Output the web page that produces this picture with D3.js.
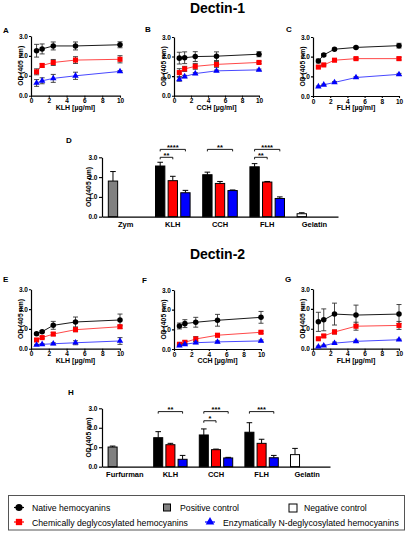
<!DOCTYPE html>
<html>
<head>
<meta charset="utf-8">
<script src="https://cdn.jsdelivr.net/npm/d3@7"></script>
<style>
  body { margin: 0; background: #fff; }
  svg { display: block; font-family: Arial, "Liberation Sans", sans-serif; }
</style>
</head>
<body>
<svg id="fig" width="410" height="541"></svg>
<script>
// concentrations (µg/ml) used in the dose curves
const conc = [0.625, 1.25, 2.5, 5, 10];
const xTicks = [0, 2, 4, 6, 8, 10];
const yTicks = [0, 1, 2, 3];

// dose curves, one row per series: native, chemically, enzymatically deglycosylated
const aMean = [[2.26, 2.35, 2.5, 2.5, 2.56], [1.2, 1.52, 1.67, 1.79, 1.83], [0.64, 0.75, 0.87, 1.0, 1.22]];
const aErr  = [[0.32, 0.25, 0.2, 0.2, 0.15], [0.15, 0.08, 0.15, 0.17, 0.18], [0.17, 0.15, 0.2, 0.18, 0.04]];
const bMean = [[1.92, 1.94, 2.0, 2.02, 2.12], [1.18, 1.37, 1.5, 1.6, 1.7], [0.84, 0.98, 1.13, 1.27, 1.32]];
const bErr  = [[0.3, 0.3, 0.25, 0.22, 0.13], [0.2, 0.13, 0.15, 0.15, 0.06], [0.1, 0.06, 0.05, 0.04, 0.04]];
const cMean = [[1.78, 2.09, 2.38, 2.47, 2.56], [1.47, 1.58, 1.82, 1.9, 1.9], [0.48, 0.57, 0.69, 0.94, 1.1]];
const cErr  = [[0.1, 0.06, 0.05, 0.05, 0.12], [0.05, 0.04, 0.05, 0.05, 0.07], [0.03, 0.03, 0.04, 0.04, 0.05]];
const eMean = [[0.76, 0.86, 1.18, 1.35, 1.45], [0.44, 0.56, 0.74, 0.96, 1.11], [0.19, 0.22, 0.25, 0.3, 0.39]];
const eErr  = [[0.06, 0.05, 0.2, 0.25, 0.3], [0.05, 0.05, 0.08, 0.1, 0.08], [0.03, 0.03, 0.05, 0.1, 0.17]];
const fMean = [[1.17, 1.29, 1.36, 1.46, 1.61], [0.24, 0.34, 0.51, 0.7, 0.85], [0.17, 0.24, 0.32, 0.36, 0.41]];
const fErr  = [[0.15, 0.2, 0.25, 0.3, 0.3], [0.04, 0.08, 0.12, 0.08, 0.06], [0.03, 0.03, 0.05, 0.05, 0.05]];
const gMean = [[1.35, 1.45, 1.74, 1.69, 1.74], [0.5, 0.64, 0.84, 1.13, 1.17], [0.1, 0.15, 0.28, 0.37, 0.45]];
const gErr  = [[0.48, 0.55, 0.55, 0.5, 0.48], [0.05, 0.07, 0.1, 0.2, 0.2], [0.03, 0.03, 0.05, 0.05, 0.03]];

// bar panels
const hemo = ["KLH", "CCH", "FLH"];
const dGroups = ["Zym", "KLH", "CCH", "FLH", "Gelatin"];
const dControlMean = [1.8, 0.15];   // positive (Zym), negative (Gelatin)
const dControlErr  = [0.48, 0.05];
const dMean = [[2.56, 2.12, 2.52], [1.82, 1.68, 1.75], [1.21, 1.32, 0.92]];
const dErr  = [[0.19, 0.13, 0.16], [0.22, 0.1, 0.03], [0.12, 0.03, 0.08]];
const dSig = [
  { group: "KLH", from: 0, to: 1, level: 3.0, label: "**" },
  { group: "KLH", from: 0, to: 2, level: 3.4, label: "****" },
  { group: "CCH", from: 0, to: 2, level: 3.4, label: "**" },
  { group: "FLH", from: 0, to: 1, level: 3.0, label: "**" },
  { group: "FLH", from: 0, to: 2, level: 3.4, label: "****" }
];

const hGroups = ["Furfurman", "KLH", "CCH", "FLH", "Gelatin"];
const hControlMean = [1.01, 0.62];  // positive (Furfurman), negative (Gelatin)
const hControlErr  = [0.05, 0.32];
const hMean = [[1.49, 1.63, 1.77], [1.13, 0.875, 1.2], [0.38, 0.45, 0.46]];
const hErr  = [[0.31, 0.31, 0.49], [0.07, 0.03, 0.21], [0.2, 0.03, 0.12]];
const hSig = [
  { group: "KLH", from: 0, to: 2, level: 2.83, label: "**" },
  { group: "CCH", from: 0, to: 1, level: 2.36, label: "*" },
  { group: "CCH", from: 0, to: 2, level: 2.83, label: "***" },
  { group: "FLH", from: 0, to: 2, level: 2.83, label: "***" }
];

const seriesNames = ["Native hemocyanins", "Chemically deglycosylated hemocyanins", "Enzymatically N-deglycosylated hemocyanins"];

const svg = d3.select("#fig");
const fillColor = ["#000000", "#ff0000", "#0000ff"];
const lineColor = ["#000000", "#ff3333", "#3333ff"];
const markers = [d3.symbolCircle, d3.symbolSquare, d3.symbolTriangle];
const markerSize = [24, 26, 18];

function styleAxis(sel, fs) {
  sel.select(".domain").attr("stroke-width", 1.2);
  sel.selectAll(".tick line").attr("stroke-width", 1.1);
  sel.selectAll("text").attr("font-size", fs).attr("font-weight", "bold")
    .attr("font-family", "Arial, 'Liberation Sans', sans-serif");
}

function panelLetter(txt, x, y) {
  svg.append("text").attr("x", x).attr("y", y).attr("font-size", 8)
    .attr("font-weight", "bold").text(txt);
}

function yLabel(g, cx, cy, fs) {
  g.append("text").attr("transform", `translate(${cx},${cy}) rotate(-90)`)
    .attr("text-anchor", "middle").attr("dy", "0.35em")
    .attr("font-size", fs).attr("font-weight", "bold").text("OD (405 nm)");
}

function linePanel(p) {
  const x = d3.scaleLinear().domain([0, 10]).range([p.left, p.right]);
  const y = d3.scaleLinear().domain([0, 3]).range([p.bottom, p.top]);
  const g = svg.append("g");

  g.append("g").attr("transform", `translate(0,${p.bottom})`)
    .call(d3.axisBottom(x).tickValues(xTicks).tickSize(2).tickPadding(1).tickSizeOuter(0))
    .call(styleAxis, 6.5);
  g.append("g").attr("transform", `translate(${p.left},0)`)
    .call(d3.axisLeft(y).tickValues(yTicks).tickSize(2).tickPadding(1).tickSizeOuter(0))
    .call(styleAxis, 6.5);

  p.mean.forEach((m, i) => {
    const pts = conc.map((c, j) => ({ x: c, y: m[j], e: p.err[i][j] }));
    g.append("path").datum(pts)
      .attr("fill", "none").attr("stroke", lineColor[i]).attr("stroke-width", 0.9)
      .attr("d", d3.line().x(d => x(d.x)).y(d => y(d.y)));

    const eb = g.append("g").attr("stroke", "#333").attr("stroke-width", 0.9);
    pts.forEach(d => {
      eb.append("line").attr("x1", x(d.x)).attr("x2", x(d.x))
        .attr("y1", y(d.y - d.e)).attr("y2", y(d.y + d.e));
      [d.y - d.e, d.y + d.e].forEach(v => {
        eb.append("line").attr("x1", x(d.x) - 2.5).attr("x2", x(d.x) + 2.5)
          .attr("y1", y(v)).attr("y2", y(v));
      });
    });

    g.append("g").selectAll("path").data(pts).enter().append("path")
      .attr("transform", d => `translate(${x(d.x)},${y(d.y)})`)
      .attr("d", d3.symbol().type(markers[i]).size(markerSize[i]))
      .attr("fill", fillColor[i]);
  });

  yLabel(g, p.left - 10.5, (p.top + p.bottom) / 2, 6.8);
  g.append("text").attr("x", (p.left + p.right) / 2).attr("y", p.bottom + 14)
    .attr("text-anchor", "middle").attr("font-size", 7).attr("font-weight", "bold")
    .text(p.xLabel);
}

function barPanel(p) {
  const x0 = d3.scaleBand().domain(p.groups).range([p.left, p.right]);
  const x1 = d3.scaleBand().domain([0, 1, 2]).range([0, x0.bandwidth()])
    .paddingInner(0.26).paddingOuter(0.5);
  const y = d3.scaleLinear().domain([0, 3]).range([p.bottom, p.top]);
  const g = svg.append("g");

  // controls sit in the first slot of their group, hemocyanins fill all three
  const bars = [
    { group: p.groups[0], slot: 0, v: p.controlMean[0], e: p.controlErr[0], fill: "#808080" },
    { group: p.groups[4], slot: 0, v: p.controlMean[1], e: p.controlErr[1], fill: "#ffffff" }
  ];
  p.mean.forEach((row, s) => row.forEach((v, k) => {
    bars.push({ group: hemo[k], slot: s, v: v, e: p.err[s][k], fill: fillColor[s] });
  }));

  const bx = d => x0(d.group) + x1(d.slot);
  const bw = x1.bandwidth();

  const eb = g.append("g").attr("stroke", "#000").attr("stroke-width", 1);
  bars.forEach(d => {
    const cx = bx(d) + bw / 2;
    eb.append("line").attr("x1", cx).attr("x2", cx).attr("y1", y(d.v)).attr("y2", y(d.v + d.e));
    eb.append("line").attr("x1", cx - 2.8).attr("x2", cx + 2.8)
      .attr("y1", y(d.v + d.e)).attr("y2", y(d.v + d.e));
  });

  g.append("g").selectAll("rect").data(bars).enter().append("rect")
    .attr("x", bx).attr("width", bw)
    .attr("y", d => y(d.v)).attr("height", d => y(0) - y(d.v))
    .attr("fill", d => d.fill).attr("stroke", "#000").attr("stroke-width", 1);

  g.append("g").attr("transform", `translate(0,${p.bottom})`)
    .call(d3.axisBottom(x0).tickSize(0).tickPadding(4.5).tickSizeOuter(0))
    .call(styleAxis, 7.5);
  g.append("g").attr("transform", `translate(${p.left},0)`)
    .call(d3.axisLeft(y).tickValues(yTicks).tickSize(3).tickPadding(1.5).tickSizeOuter(0))
    .call(styleAxis, 6.5);

  // significance brackets
  p.sig.forEach(s => {
    const xa = x0(s.group) + x1(s.from) + bw / 2;
    const xb = x0(s.group) + x1(s.to) + bw / 2;
    const ly = y(s.level);
    g.append("path")
      .attr("d", `M${xa},${ly + 2}V${ly}H${xb}V${ly + 2}`)
      .attr("fill", "none").attr("stroke", "#000").attr("stroke-width", 0.9);
    g.append("text").attr("x", (xa + xb) / 2).attr("y", ly + 0.5)
      .attr("text-anchor", "middle").attr("font-size", 7.5).attr("font-weight", "bold")
      .text(s.label);
  });

  yLabel(g, p.left - 13, (p.top + p.bottom) / 2, 6.8);
}

// titles
svg.append("text").attr("x", 217.5).attr("y", 12.5).attr("text-anchor", "middle")
  .attr("font-size", 14).attr("font-weight", "bold").text("Dectin-1");
svg.append("text").attr("x", 217.5).attr("y", 259).attr("text-anchor", "middle")
  .attr("font-size", 14).attr("font-weight", "bold").text("Dectin-2");

// Dectin-1
panelLetter("A", 3, 32.5);
linePanel({ left: 31, right: 120, top: 36, bottom: 95.7, mean: aMean, err: aErr, xLabel: "KLH [µg/ml]" });
panelLetter("B", 145, 31.5);
linePanel({ left: 174, right: 259, top: 37, bottom: 95.7, mean: bMean, err: bErr, xLabel: "CCH [µg/ml]" });
panelLetter("C", 286, 31.5);
linePanel({ left: 313, right: 399, top: 37, bottom: 96, mean: cMean, err: cErr, xLabel: "FLH [µg/ml]" });
panelLetter("D", 66, 143);
barPanel({ left: 102, right: 338, top: 157.3, bottom: 216.7, groups: dGroups,
  controlMean: dControlMean, controlErr: dControlErr, mean: dMean, err: dErr, sig: dSig });

// Dectin-2
panelLetter("E", 3, 282);
linePanel({ left: 31, right: 120, top: 289.3, bottom: 348.7, mean: eMean, err: eErr, xLabel: "KLH [µg/ml]" });
panelLetter("F", 142, 283);
linePanel({ left: 174, right: 261, top: 290, bottom: 349, mean: fMean, err: fErr, xLabel: "CCH [µg/ml]" });
panelLetter("G", 285, 282);
linePanel({ left: 313, right: 399, top: 289, bottom: 348.7, mean: gMean, err: gErr, xLabel: "FLH [µg/ml]" });
panelLetter("H", 68, 395);
barPanel({ left: 102, right: 330, top: 408.3, bottom: 466.7, groups: hGroups,
  controlMean: hControlMean, controlErr: hControlErr, mean: hMean, err: hErr, sig: hSig });

// legend
const leg = svg.append("g");
leg.append("rect").attr("x", 8.5).attr("y", 495.5).attr("width", 396).attr("height", 34.5)
  .attr("fill", "#fff").attr("stroke", "#555").attr("stroke-width", 1);

function legLine(cx, cy, i) {
  leg.append("line").attr("x1", cx - 5).attr("x2", cx + 5).attr("y1", cy).attr("y2", cy)
    .attr("stroke", fillColor[i]).attr("stroke-width", 1.2);
  leg.append("path").attr("transform", `translate(${cx},${cy})`)
    .attr("d", d3.symbol().type(markers[i]).size(i === 2 ? 32 : 40)).attr("fill", fillColor[i]);
}
function legBox(cx, cy, s, fill) {
  leg.append("rect").attr("x", cx - s / 2).attr("y", cy - s / 2).attr("width", s).attr("height", s)
    .attr("fill", fill).attr("stroke", "#000").attr("stroke-width", 1);
}
function legText(x, y, t) {
  leg.append("text").attr("x", x).attr("y", y).attr("font-size", 8.7).text(t);
}

legLine(19, 507.5, 0);
legText(32, 511, seriesNames[0]);
legBox(167, 507.5, 7, "#808080");
legText(180, 511, "Positive control");
legBox(293, 508, 8, "#ffffff");
legText(304, 511, "Negative control");
legLine(19, 522, 1);
legText(32, 525.5, seriesNames[1]);
legLine(210, 522, 2);
legText(223, 525.5, seriesNames[2]);
</script>
</body>
</html>
